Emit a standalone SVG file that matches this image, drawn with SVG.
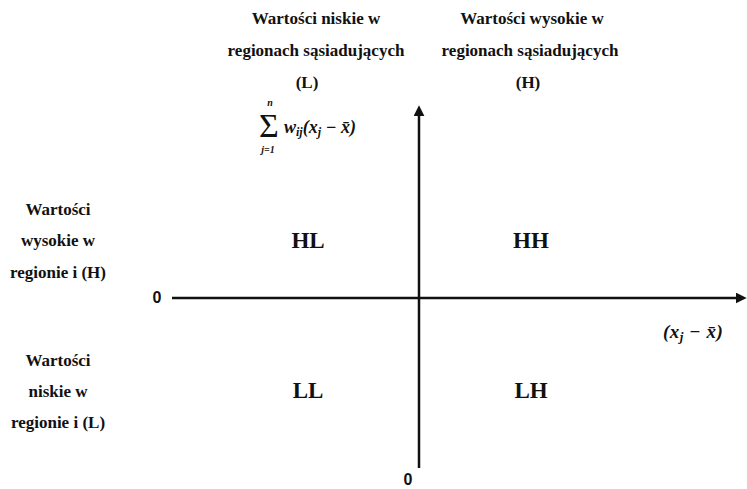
<svg xmlns="http://www.w3.org/2000/svg" width="747" height="489" viewBox="0 0 747 489">
<style>
.t{font-family:"Liberation Serif","Times New Roman",serif;font-weight:bold;font-size:17px;fill:#111;text-anchor:middle}
.q{font-family:"Liberation Serif","Times New Roman",serif;font-weight:bold;font-size:23px;fill:#111;text-anchor:middle}
.z{font-family:"Liberation Sans",Arial,sans-serif;font-weight:bold;font-size:16px;fill:#111;text-anchor:middle}
.m{font-family:"Liberation Serif","Times New Roman",serif;font-style:italic;font-weight:bold;fill:#111}
.ax{stroke:#111;stroke-width:2.5;fill:none}
</style>
<defs>
<marker id="ah" viewBox="0 0 10 10" refX="3" refY="5" markerWidth="11" markerHeight="11" markerUnits="userSpaceOnUse" orient="auto">
<path d="M0,0 L10,5 L0,10 z" fill="#111"/>
</marker>
</defs>
<g id="connectors">
<line class="ax" x1="172" y1="298" x2="739" y2="298" marker-end="url(#ah)"/>
<line class="ax" x1="419" y1="468" x2="419" y2="113" marker-end="url(#ah)"/>
</g>
<g id="top-left">
<text class="t" x="316" y="24">Wartości niskie w</text>
<text class="t" x="316" y="56">regionach sąsiadujących</text>
<text class="t" x="307" y="88">(L)</text>
</g>
<g id="top-right">
<text class="t" x="532" y="24">Wartości wysokie w</text>
<text class="t" x="530" y="56">regionach sąsiadujących</text>
<text class="t" x="528" y="88">(H)</text>
</g>
<g id="left-high">
<text class="t" x="58" y="215">Wartości</text>
<text class="t" x="58" y="246">wysokie w</text>
<text class="t" x="58" y="278">regionie i (H)</text>
</g>
<g id="left-low">
<text class="t" x="58" y="366">Wartości</text>
<text class="t" x="58" y="397">niskie w</text>
<text class="t" x="58" y="428">regionie i (L)</text>
</g>
<g id="HL"><text class="q" x="308" y="248">HL</text></g>
<g id="HH"><text class="q" x="531" y="248">HH</text></g>
<g id="LL"><text class="q" x="308" y="398">LL</text></g>
<g id="LH"><text class="q" x="531" y="398">LH</text></g>
<g id="zero-left"><text class="z" x="157" y="303">0</text></g>
<g id="zero-bottom"><text class="z" x="408" y="485">0</text></g>
<g id="sum-label">
<text x="269" y="137" font-family="'Liberation Serif','Times New Roman',serif" font-size="34" text-anchor="middle" fill="#111">Σ</text>
<text class="m" x="270" y="106" font-size="10" text-anchor="middle">n</text>
<text class="m" x="268" y="153" font-size="10" text-anchor="middle">j=1</text>
<text class="m" x="284" y="133" font-size="18">w<tspan font-size="12" dy="3">ij</tspan><tspan dy="-3">(x</tspan><tspan font-size="12" dy="3">j</tspan><tspan dy="-3"> − x̄)</tspan></text>
</g>
<g id="x-label">
<text class="m" x="663" y="338" font-size="19" letter-spacing="0.5">(x<tspan font-size="13" dy="3">j</tspan><tspan dy="-3"> − x̄)</tspan></text>
</g>
</svg>
